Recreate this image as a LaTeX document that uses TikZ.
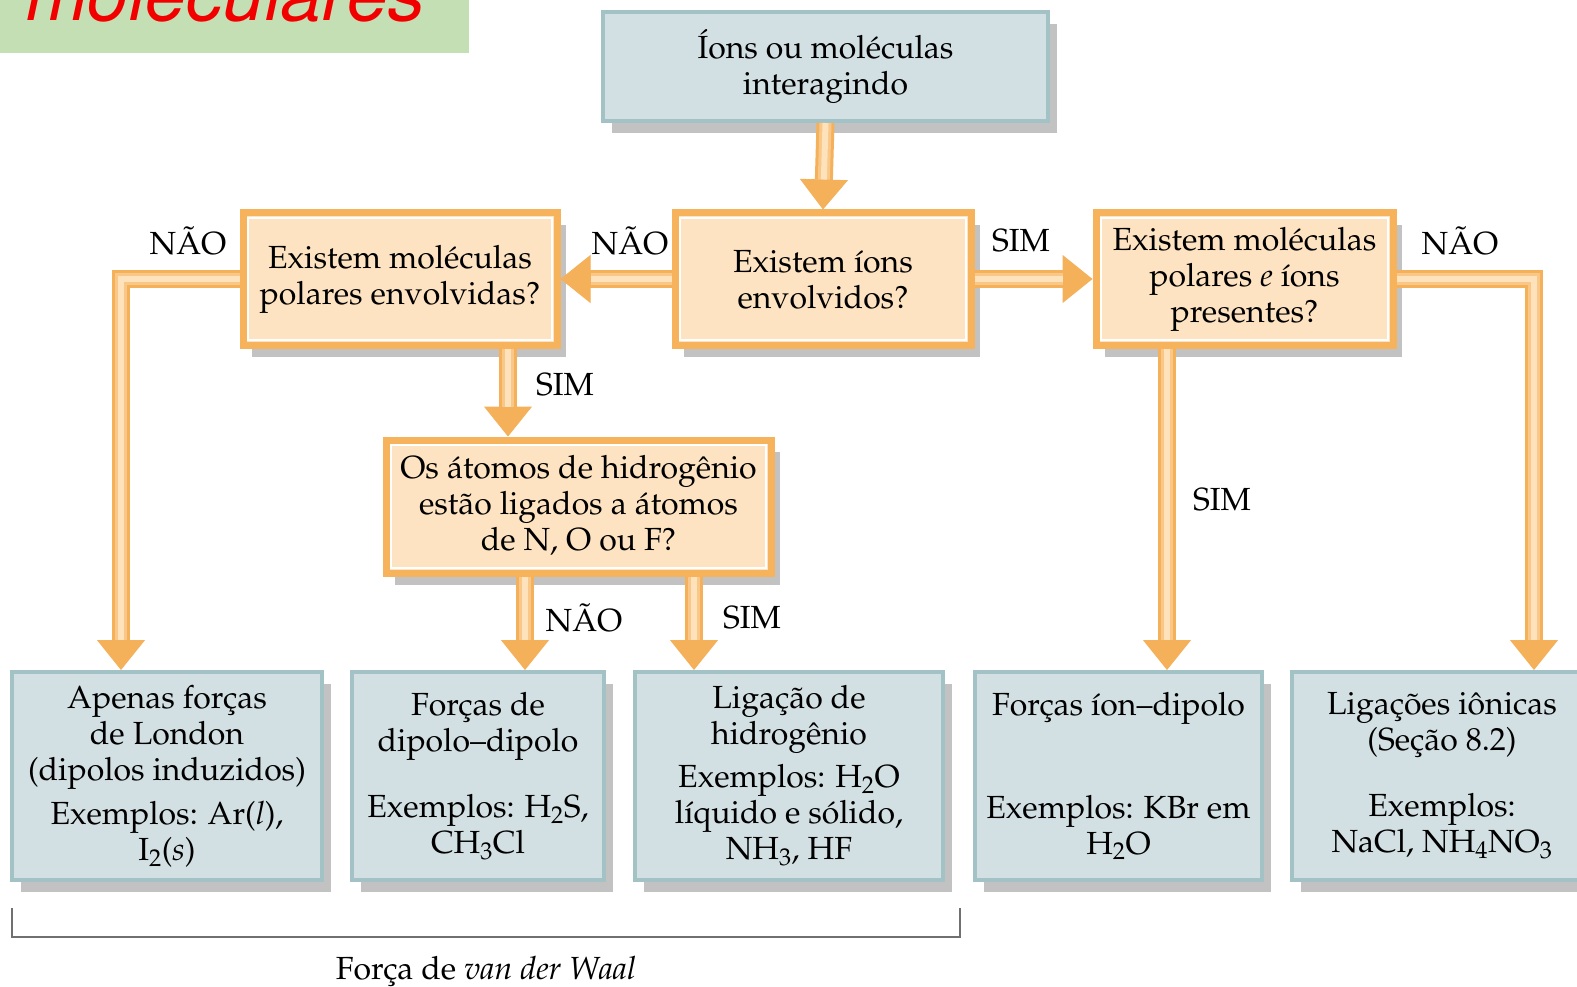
\documentclass[tikz,border=0pt]{standalone}
\usepackage[T1]{fontenc}
\usepackage{mathpazo}
\usepackage[scaled=0.95]{helvet}
\usetikzlibrary{arrows.meta,calc,shadows}
\definecolor{tealfill}{HTML}{D3E0E3}
\definecolor{tealdraw}{HTML}{A3C2C6}
\definecolor{orfill}{HTML}{FDE3C1}
\definecolor{ordraw}{HTML}{F6B35C}
\definecolor{arrout}{HTML}{F5B05A}
\definecolor{arrmid}{HTML}{F9C888}
\definecolor{arrin}{HTML}{FDE2BC}
\definecolor{shadowc}{HTML}{C2C2C2}
\definecolor{bannerg}{HTML}{C5DFB4}
\definecolor{bannerred}{HTML}{F20000}
\definecolor{brackc}{HTML}{707070}
\pgfdeclarelayer{background}
\pgfsetlayers{background,main}
\tikzset{
  txt/.style={font=\fontsize{32}{36}\selectfont, align=center, text=black},
  boxshadow/.style={drop shadow={shadow xshift=9pt, shadow yshift=-12pt, fill=shadowc, opacity=1}},
  tealbox/.style={txt, fill=tealfill, draw=tealdraw, line width=4pt, inner sep=0pt, boxshadow},
  orbox/.style={txt, fill=orfill, draw=ordraw, line width=7pt, inner sep=0pt, boxshadow},
  lbl/.style={font=\fontsize{32}{36}\selectfont, inner sep=0pt},
  fat/.style={draw=arrout, line width=18pt, line join=miter,
    -{Triangle[length=30pt 0 0, width=48pt 0 0, line width=1pt 0 0, fill=arrout]}},
  fatmid/.style={draw=arrmid, line width=12pt, line join=miter, shorten >=30pt},
  fatin/.style={draw=arrin, line width=6pt, line join=miter, shorten >=30pt},
  fatsh/.style={draw=shadowc, line width=18pt, line join=miter,
    -{Triangle[length=30pt 0 0, width=48pt 0 0, line width=1pt 0 0, fill=shadowc]}},
}
\newcommand\fatarrow[1]{%
  \begin{pgfonlayer}{background}
    \draw[fatsh, transform canvas={shift={(7pt,-9pt)}}] #1;
  \end{pgfonlayer}
  \draw[fat] #1;
  \draw[fatmid] #1;
  \draw[fatin] #1;}
\begin{document}
\begin{tikzpicture}[x=1pt,y=-1pt]
\useasboundingbox (0,0) rectangle (1577,987);
\clip (0,0) rectangle (1577,987);
\fill[white] (0,0) rectangle (1577,987);

% banner
\begin{scope}
  \clip (0,0) rectangle (469,53);
  \fill[bannerg] (0,0) rectangle (469,53);
  \node[anchor=base west, text=bannerred, inner sep=0pt,
        font=\fontsize{78}{84}\sffamily\itshape] (ban) at (22,21) {moleculares};
\end{scope}

% nodes
\node[tealbox, minimum width=445pt, minimum height=109pt] (top) at (825.5,66.5)
  {\'Ions ou mol\'eculas\\interagindo};
\node[orbox, minimum width=314pt, minimum height=132pt] (o1) at (400,279)
  {Existem mol\'eculas\\polares envolvidas?};
\node[orbox, minimum width=296pt, minimum height=132pt, text depth=0pt] (o2) at (823,279)
  {Existem \'{\i}ons\\envolvidos?};
\node[orbox, minimum width=297pt, minimum height=132pt] (o3) at (1244.5,279)
  {\raisebox{0pt}[0pt][0pt]{}Existem mol\'eculas\\polares \textit{e} \'{\i}ons\\presentes?\\[-28pt]\mbox{}};
\node[orbox, minimum width=385pt, minimum height=133pt] (oH) at (578.5,506.5)
  {Os \'atomos de hidrog\^enio\\est\~ao ligados a \'atomos\\de N, O ou F?\\[-28pt]\mbox{}};

\node[tealbox, minimum width=310pt, minimum height=208pt] (B1) at (167,776)
  {Apenas for\c{c}as\\de London\\(dipolos induzidos)\\[8pt]Exemplos: Ar(\textit{l}),\\I\textsubscript{2}(\textit{s})};
\node[tealbox, minimum width=252pt, minimum height=208pt] (B2) at (478,776)
  {For\c{c}as de\\dipolo--dipolo\\[30pt]Exemplos: H\textsubscript{2}S,\\CH\textsubscript{3}Cl};
\node[tealbox, minimum width=308pt, minimum height=208pt] (B3) at (789,776)
  {Liga\c{c}\~ao de\\hidrog\^enio\\[7pt]Exemplos: H\textsubscript{2}O\\l\'{\i}quido e s\'olido,\\NH\textsubscript{3}, HF};
\node[tealbox, minimum width=287pt, minimum height=208pt] (B4) at (1118.5,776)
  {For\c{c}as \'{\i}on--dipolo\\[67pt]Exemplos: KBr em\\H\textsubscript{2}O};
\node[tealbox, minimum width=300pt, minimum height=208pt] (B5) at (1442,776)
  {Liga\c{c}\~oes i\^onicas\\(Se\c{c}\~ao 8.2)\\[30pt]Exemplos:\\NaCl, NH\textsubscript{4}NO\textsubscript{3}};

% inner white lines of question boxes
\foreach \n in {o1,o2,o3,oH}{
  \draw[white, line width=1.5pt] ([shift={(8.5pt,-8.5pt)}]\n.north west) rectangle ([shift={(-8.5pt,8.5pt)}]\n.south east);
}

% helper coordinates
\coordinate (k1) at (121,0);
\coordinate (k2) at (508,0);
\coordinate (k3) at (525,0);
\coordinate (k4) at (694,0);
\coordinate (k5) at (1167,0);
\coordinate (k6) at (1534,0);

% arrows
\fatarrow{(top.south) -- (o2.north)}
\fatarrow{(o2.west) -- (o1.east)}
\fatarrow{(o2.east) -- (o3.west)}
\fatarrow{(o1.west) -| (k1 |- B1.north)}
\fatarrow{(o1.south -| k2) -- (oH.north -| k2)}
\fatarrow{(oH.south -| k3) -- (B2.north -| k3)}
\fatarrow{(oH.south -| k4) -- (B3.north -| k4)}
\fatarrow{(o3.south -| k5) -- (B4.north -| k5)}
\fatarrow{(o3.east) -| (k6 |- B5.north)}

% labels
\node[lbl] (l1) at (188,241) {N\~AO};
\node[lbl] (l2) at (630,241) {N\~AO};
\node[lbl] (l3) at (1021,241) {SIM};
\node[lbl] (l4) at (1460,241) {N\~AO};
\node[lbl] (l5) at (565,385) {SIM};
\node[lbl] (l6) at (584,618) {N\~AO};
\node[lbl] (l7) at (752,618) {SIM};
\node[lbl] (l8) at (1222,500) {SIM};

% bracket
\coordinate (bl) at (12,908);
\coordinate (br) at (960,908);
\draw[brackc, line width=1.3pt] (bl) -- ++(0,29) -| (br);
\node[lbl] (vdw) at (486,972) {For\c{c}a de \textit{van der Waal}};
\end{tikzpicture}
\end{document}
